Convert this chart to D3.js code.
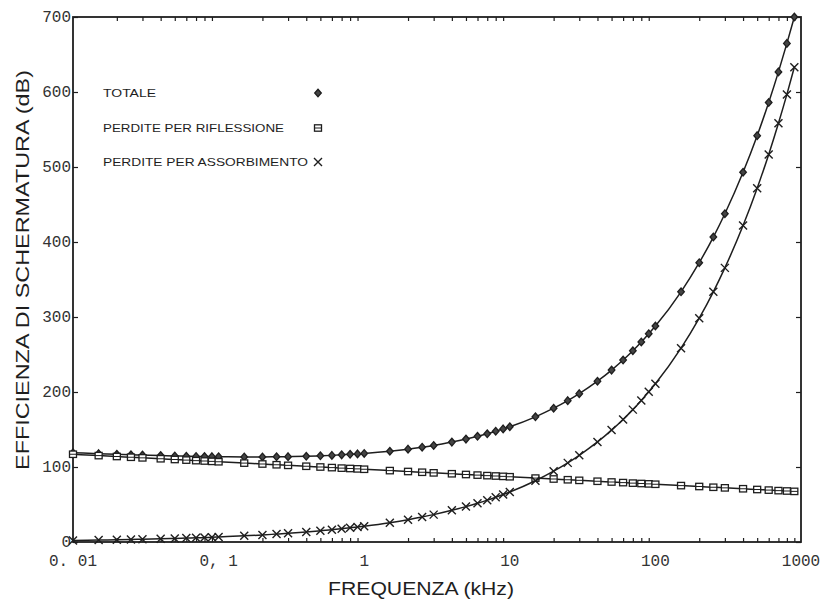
<!DOCTYPE html>
<html>
<head>
<meta charset="utf-8">
<script src="https://cdn.jsdelivr.net/npm/d3@7"></script>
<style>
  body { margin: 0; background: #fff; }
  svg { display: block; }
</style>
</head>
<body>
<script>
//------------------------1. DATA------------------------//
// frequency in kHz, 1-1.5-2-2.5-3-4...9 steps per decade
const freq = [
  0.01, 0.015, 0.02, 0.025, 0.03, 0.04, 0.05, 0.06, 0.07, 0.08, 0.09,
  0.1, 0.15, 0.2, 0.25, 0.3, 0.4, 0.5, 0.6, 0.7, 0.8, 0.9,
  1, 1.5, 2, 2.5, 3, 4, 5, 6, 7, 8, 9,
  10, 15, 20, 25, 30, 40, 50, 60, 70, 80, 90,
  100, 150, 200, 250, 300, 400, 500, 600, 700, 800, 900
];
// totale (dB)
const totale = [
  119, 117.8, 117, 116.3, 115.9, 115.2, 114.7, 114.4, 114.1, 114, 113.8,
  113.7, 113.4, 113.4, 113.6, 113.8, 114.3, 114.9, 115.5, 116.2, 116.9, 117.5,
  118.1, 121, 123.8, 126.4, 128.7, 133.2, 137.2, 140.9, 144.3, 147.7, 150.8,
  153.7, 166.9, 178.4, 188.5, 197.8, 214.4, 229.2, 242.6, 255, 266.7, 277.7,
  288, 333.6, 372.4, 406.6, 437.7, 493, 541.8, 586, 626.8, 664.8, 700
];
// perdite per riflessione (dB)
const riflessione = [
  117, 115.2, 114, 113, 112.2, 111, 110, 109.2, 108.5, 108, 107.5,
  107, 105.2, 104, 103, 102.2, 101, 100, 99.2, 98.5, 98, 97.5,
  97, 95.2, 94, 93, 92.2, 91, 90, 89.2, 88.5, 88, 87.5,
  87, 85.2, 84, 83, 82.2, 81, 80, 79.2, 78.5, 78, 77.5,
  77, 75.2, 74, 73, 72.2, 71, 70, 69.2, 68.5, 68, 67.5
];
// perdite per assorbimento (dB)
const assorbimento = [
  2.1, 2.6, 3, 3.3, 3.7, 4.2, 4.7, 5.2, 5.6, 6, 6.3,
  6.7, 8.2, 9.4, 10.6, 11.6, 13.3, 14.9, 16.3, 17.7, 18.9, 20,
  21.1, 25.8, 29.8, 33.4, 36.5, 42.2, 47.2, 51.7, 55.8, 59.7, 63.3,
  66.7, 81.7, 94.4, 105.5, 115.6, 133.4, 149.2, 163.4, 176.5, 188.7, 200.2,
  211, 258.4, 298.4, 333.6, 365.5, 422, 471.8, 516.8, 558.3, 596.8, 633
];
const xTicks = [0.01, 0.1, 1, 10, 100, 1000];
const xTickLabels = ["0. 01", "0, 1", "1", "10", "100", "1000"];
const yTicks = [0, 100, 200, 300, 400, 500, 600, 700];
const seriesNames = ["TOTALE", "PERDITE PER RIFLESSIONE", "PERDITE PER ASSORBIMENTO"];

//------------------------2. PREPARATION------------------------//
const width = 825;
const height = 601;
const mLeft = 73, mRight = 801, mTop = 17, mBottom = 542;
const ink = "#1e1e1e";

const svg = d3.select("body")
  .append("svg")
  .attr("width", width)
  .attr("height", height);

const xScale = d3.scaleLog().domain([0.01, 1000]).range([mLeft, mRight]);
const yScale = d3.scaleLinear().domain([0, 700]).range([mBottom, mTop]);

//------------------------3. AXES------------------------//
// frame
svg.append("rect")
  .attr("x", mLeft).attr("y", mTop)
  .attr("width", mRight - mLeft).attr("height", mBottom - mTop)
  .attr("fill", "none").attr("stroke", ink).attr("stroke-width", 1.8);

// minor log ticks on bottom and top
const minor = [];
xTicks.slice(0, -1).forEach(function (d) {
  for (let k = 2; k <= 9; k++) minor.push(d * k);
});
const bottomAxis = svg.append("g").attr("transform", "translate(0," + mBottom + ")")
  .call(d3.axisTop(xScale).tickValues(minor).tickSize(4).tickFormat(""));
const topAxis = svg.append("g").attr("transform", "translate(0," + mTop + ")")
  .call(d3.axisBottom(xScale).tickValues(minor).tickSize(4).tickFormat(""));
const leftAxis = svg.append("g").attr("transform", "translate(" + mLeft + ",0)")
  .call(d3.axisRight(yScale).tickValues(yTicks).tickSize(5).tickFormat(""));
const rightAxis = svg.append("g").attr("transform", "translate(" + mRight + ",0)")
  .call(d3.axisLeft(yScale).tickValues(yTicks).tickSize(5).tickFormat(""));
[bottomAxis, topAxis, leftAxis, rightAxis].forEach(function (a) {
  a.select(".domain").remove();
  a.selectAll("line").attr("stroke", ink).attr("stroke-width", 1.2);
});

// tick labels
svg.append("g").selectAll("text")
  .data(xTicks)
  .join("text")
  .attr("x", function (d) { return xScale(d); })
  .attr("y", 566)
  .attr("text-anchor", "middle")
  .style("font-family", "'Liberation Mono', 'DejaVu Sans Mono', monospace")
  .style("font-size", "16px")
  .style("fill", "#333")
  .text(function (d, i) { return xTickLabels[i]; });

svg.append("g").selectAll("text")
  .data(yTicks)
  .join("text")
  .attr("x", 71)
  .attr("y", function (d) { return yScale(d) + 5; })
  .attr("text-anchor", "end")
  .style("font-family", "'Liberation Mono', 'DejaVu Sans Mono', monospace")
  .style("font-size", "16px")
  .style("fill", "#333")
  .text(function (d) { return d; });

// axis titles
svg.append("text")
  .attr("x", 421).attr("y", 595)
  .attr("text-anchor", "middle")
  .attr("textLength", 186).attr("lengthAdjust", "spacingAndGlyphs")
  .style("font-family", "'Liberation Sans', Arial, sans-serif")
  .style("font-size", "18px")
  .style("fill", ink)
  .text("FREQUENZA (kHz)");

svg.append("text")
  .attr("transform", "translate(29," + 270 + ") rotate(-90)")
  .attr("text-anchor", "middle")
  .attr("textLength", 400).attr("lengthAdjust", "spacingAndGlyphs")
  .style("font-family", "'Liberation Sans', Arial, sans-serif")
  .style("font-size", "19px")
  .style("fill", ink)
  .text("EFFICIENZA DI SCHERMATURA (dB)");

//------------------------4. LINES & MARKERS------------------------//
const series = [totale, riflessione, assorbimento];
const line = d3.line()
  .x(function (d) { return xScale(d[0]); })
  .y(function (d) { return yScale(d[1]); })
  .curve(d3.curveMonotoneX);

const plot = svg.append("g");

function drawMarker(g, type, x, y) {
  if (type === 0) {
    g.append("path")
      .attr("d", "M" + x + "," + (y - 3.8) + "L" + (x + 3.3) + "," + y +
                 "L" + x + "," + (y + 3.8) + "L" + (x - 3.3) + "," + y + "Z")
      .attr("fill", "#444").attr("stroke", ink).attr("stroke-width", 1.3);
  } else if (type === 1) {
    g.append("rect")
      .attr("x", x - 3.5).attr("y", y - 3.2)
      .attr("width", 7).attr("height", 6.4)
      .attr("fill", "#fff").attr("stroke", ink).attr("stroke-width", 1.3);
    g.append("line")
      .attr("x1", x - 3.5).attr("x2", x + 3.5).attr("y1", y).attr("y2", y)
      .attr("stroke", ink).attr("stroke-width", 1);
  } else {
    g.append("path")
      .attr("d", "M" + (x - 4) + "," + (y - 4) + "L" + (x + 4) + "," + (y + 4) +
                 "M" + (x - 4) + "," + (y + 4) + "L" + (x + 4) + "," + (y - 4))
      .attr("stroke", ink).attr("stroke-width", 1.4).attr("fill", "none");
  }
}

for (let i = 0; i < series.length; i++) {
  const pts = freq.map(function (f, j) { return [f, series[i][j]]; });
  plot.append("path")
    .datum(pts)
    .attr("fill", "none")
    .attr("stroke", ink)
    .attr("stroke-width", 1.5)
    .attr("d", line);
  const mg = plot.append("g");
  pts.forEach(function (p) { drawMarker(mg, i, xScale(p[0]), yScale(p[1])); });
}

//------------------------5. LEGEND------------------------//
const legendY = [97, 132, 166];
const legendW = [53, 181, 205];
const legend = svg.append("g");
seriesNames.forEach(function (name, i) {
  legend.append("text")
    .attr("x", 103).attr("y", legendY[i])
    .attr("textLength", legendW[i]).attr("lengthAdjust", "spacingAndGlyphs")
    .style("font-family", "'Liberation Sans', Arial, sans-serif")
    .style("font-size", "11.5px")
    .style("fill", ink)
    .text(name);
  drawMarker(legend, i, 318, legendY[i] - 4);
});
</script>
</body>
</html>
